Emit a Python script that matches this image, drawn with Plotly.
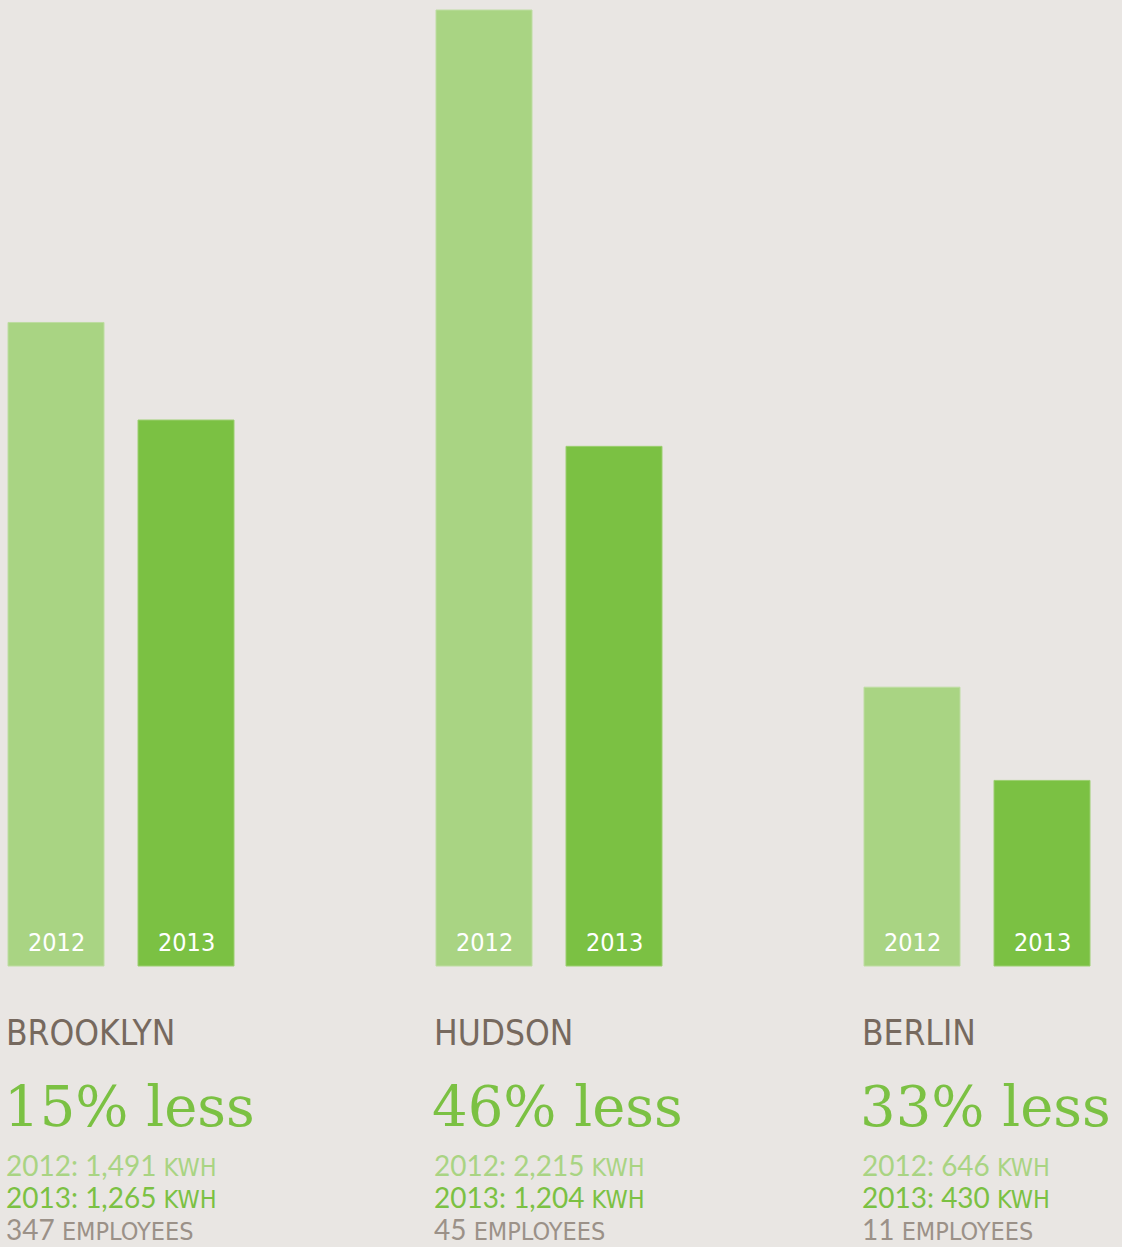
import plotly.graph_objects as go

# ---- data ----
cities = ["BROOKLYN", "HUDSON", "BERLIN"]
kwh_2012 = [1491, 2215, 646]
kwh_2013 = [1265, 1204, 430]
employees = [347, 45, 11]
years = ["2012", "2013"]

# ---- style ----
BG = "#e9e6e3"
LIGHT = "#a9d483"
DARK = "#7bc143"
BROWN = "#76695e"
GRAY = "#9b9188"
COND = "DejaVu Sans Condensed, Liberation Sans Narrow, sans-serif"
ROUND = "Lato, Open Sans, sans-serif"
SERIF = "DejaVu Serif, Liberation Serif, serif"

W, H = 1122, 1247
BASE_PX = 966          # baseline y in pixels from top
TOP_PX = 10            # top of the tallest bar
k = (BASE_PX - TOP_PX) / max(kwh_2012 + kwh_2013)   # px per kWh
y_top = BASE_PX / k
y_bot = -(H - BASE_PX) / k

group_x = [121 + 428 * i for i in range(len(cities))]
off = 65
bw = 96

def py(px):
    return 1 - px / H

fig = go.Figure()
fig.add_trace(go.Bar(x=[g - off for g in group_x], y=kwh_2012, width=bw,
                     marker=dict(color=LIGHT, line=dict(width=1, color="#bedda2")),
                     name=years[0], hoverinfo="skip"))
fig.add_trace(go.Bar(x=[g + off for g in group_x], y=kwh_2013, width=bw,
                     marker=dict(color=DARK, line=dict(width=1, color="#9ccf70")),
                     name=years[1], hoverinfo="skip"))

ann = []
for i, c in enumerate(cities):
    g = group_x[i]
    for j, yr in enumerate(years):
        ann.append(dict(x=g + (-off if j == 0 else off), y=py(942), xref="x", yref="paper",
                        text=yr, showarrow=False, xanchor="center", yanchor="middle",
                        font=dict(family=COND, size=25, color="white")))
    lx = g - 117
    ann.append(dict(x=lx, y=py(1033), xref="x", yref="paper", text=c, showarrow=False,
                    xanchor="left", yanchor="middle",
                    font=dict(family=COND, size=35, color=BROWN)))
    pct = round((1 - kwh_2013[i] / kwh_2012[i]) * 100)
    ann.append(dict(x=lx - 2, y=py(1106), xref="x", yref="paper", text=f"{pct}% less",
                    showarrow=False, xanchor="left", yanchor="middle",
                    font=dict(family=SERIF, size=56, color=DARK)))
    lines = [
        (f"2012: {kwh_2012[i]:,}", " KWH", LIGHT),
        (f"2013: {kwh_2013[i]:,}", " KWH", DARK),
        (f"{employees[i]}", " EMPLOYEES", GRAY),
    ]
    parts = []
    for num, unit, col in lines:
        parts.append(f"<span style='color:{col}'>"
                     f"<span style='font-family:{ROUND};font-size:28px'>{num}</span>"
                     f"<span style='font-family:{COND};font-size:25px'>{unit}</span></span>")
    ann.append(dict(x=lx, y=py(1197), xref="x", yref="paper", text="<br>".join(parts),
                    showarrow=False, xanchor="left", yanchor="middle", align="left",
                    font=dict(family=ROUND, size=24.5, color=GRAY)))

fig.update_layout(
    width=W, height=H,
    margin=dict(l=0, r=0, t=0, b=0),
    paper_bgcolor=BG, plot_bgcolor=BG,
    showlegend=False,
    barmode="overlay",
    xaxis=dict(range=[0, W], visible=False, fixedrange=True),
    yaxis=dict(range=[y_bot, y_top], visible=False, fixedrange=True),
    annotations=ann,
)
fig.write_html("out.html", config={"displayModeBar": False},
               post_script="document.body.style.margin='0px';document.body.style.overflow='hidden';")
